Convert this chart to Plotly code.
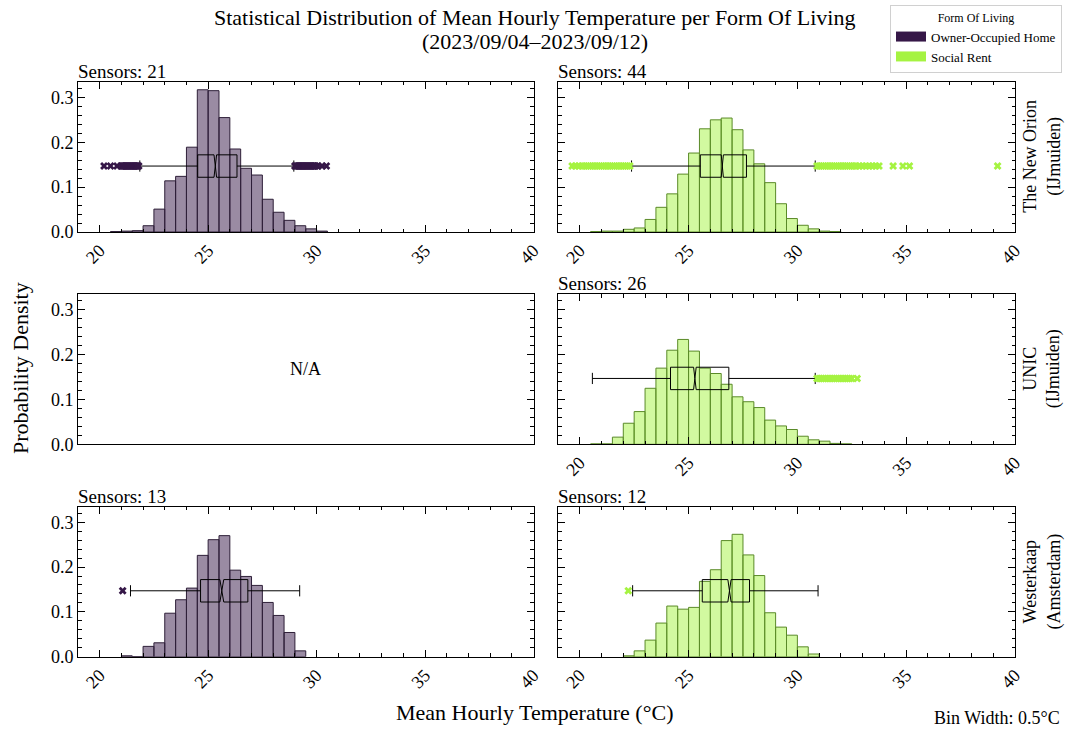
import plotly.graph_objects as go

# ---------------- data ----------------
x_tick_vals = [20, 25, 30, 35, 40]
x_tick_text = ["20", "25", "30", "35", "40"]
y_tick_vals = [0.0, 0.1, 0.2, 0.3]
y_tick_text = ["0.0", "0.1", "0.2", "0.3"]

# histogram bin left edges (bin width 0.5 °C) and densities
orion_owner_edges = [20.5, 21.0, 21.5, 22.0, 22.5, 23.0, 23.5, 24.0, 24.5, 25.0,
                     25.5, 26.0, 26.5, 27.0, 27.5, 28.0, 28.5, 29.0, 29.5, 30.0]
orion_owner_density = [0.001, 0.002, 0.003, 0.014, 0.051, 0.114, 0.124, 0.189, 0.317, 0.315,
                       0.255, 0.185, 0.142, 0.127, 0.073, 0.044, 0.026, 0.014, 0.007, 0.002]

orion_social_edges = [20.5, 21.0, 21.5, 22.0, 22.5, 23.0, 23.5, 24.0, 24.5, 25.0, 25.5, 26.0,
                      26.5, 27.0, 27.5, 28.0, 28.5, 29.0, 29.5, 30.0, 30.5, 31.0, 31.5]
orion_social_density = [0.001, 0.002, 0.002, 0.006, 0.009, 0.028, 0.055, 0.085, 0.129, 0.176, 0.230, 0.250,
                        0.254, 0.228, 0.183, 0.152, 0.110, 0.063, 0.030, 0.015, 0.007, 0.002, 0.001]

unic_social_edges = [20.5, 21.0, 21.5, 22.0, 22.5, 23.0, 23.5, 24.0, 24.5, 25.0, 25.5, 26.0,
                     26.5, 27.0, 27.5, 28.0, 28.5, 29.0, 29.5, 30.0, 30.5, 31.0, 31.5, 32.0]
unic_social_density = [0.001, 0.001, 0.016, 0.047, 0.073, 0.125, 0.170, 0.210, 0.234, 0.208, 0.170, 0.158,
                       0.134, 0.106, 0.095, 0.082, 0.054, 0.041, 0.033, 0.018, 0.010, 0.007, 0.002, 0.001]

wester_owner_edges = [21.0, 21.5, 22.0, 22.5, 23.0, 23.5, 24.0, 24.5, 25.0, 25.5,
                      26.0, 26.5, 27.0, 27.5, 28.0, 28.5, 29.0]
wester_owner_density = [0.002, 0.0, 0.023, 0.031, 0.097, 0.127, 0.153, 0.226, 0.261, 0.270,
                        0.193, 0.179, 0.159, 0.121, 0.092, 0.054, 0.013]

wester_social_edges = [22.0, 22.5, 23.0, 23.5, 24.0, 24.5, 25.0, 25.5, 26.0,
                       26.5, 27.0, 27.5, 28.0, 28.5, 29.0, 29.5, 30.0, 30.5]
wester_social_density = [0.002, 0.013, 0.037, 0.075, 0.113, 0.106, 0.110, 0.168, 0.194,
                         0.259, 0.273, 0.227, 0.181, 0.098, 0.066, 0.048, 0.022, 0.006]

# box statistics: q1, median, q3, lower whisker, upper whisker, notch half-span
orion_owner_box = [24.52, 25.33, 26.33, 21.85, 28.95, 0.06]
orion_social_box = [25.54, 26.55, 27.66, 22.38, 30.82, 0.05]
unic_social_box = [24.17, 25.29, 26.85, 20.58, 30.82, 0.06]
wester_owner_box = [24.65, 25.63, 26.83, 21.42, 29.22, 0.09]
wester_social_box = [25.63, 26.88, 27.80, 22.43, 30.95, 0.075]

# outliers
orion_owner_outliers = [20.2, 20.5, 20.8, 21.0, 21.05, 21.1, 21.15, 21.2, 21.25, 21.3, 21.35, 21.4,
                        21.45, 21.5, 21.55, 21.6, 21.65, 21.7, 21.75, 21.8,
                        29.0, 29.05, 29.1, 29.15, 29.2, 29.25, 29.3, 29.35, 29.4, 29.45, 29.5,
                        29.55, 29.6, 29.65, 29.7, 29.75, 29.8, 29.85, 29.9, 29.95, 30.05, 30.25, 30.45]
orion_social_outliers = [19.65, 19.8, 19.95, 20.1, 20.2, 20.3, 20.4, 20.5, 20.6, 20.7, 20.8, 20.9,
                         21.0, 21.1, 21.2, 21.3, 21.4, 21.5, 21.6, 21.7, 21.8, 21.9, 22.0, 22.1,
                         22.2, 22.3,
                         30.9, 31.0, 31.1, 31.2, 31.3, 31.4, 31.5, 31.6, 31.7, 31.8, 31.9, 32.0,
                         32.1, 32.2, 32.3, 32.4, 32.5, 32.6, 32.7, 32.85, 33.0, 33.15, 33.3, 33.45,
                         33.6, 33.75, 34.4, 34.85, 35.15, 39.2]
unic_social_outliers = [30.9, 31.0, 31.1, 31.2, 31.3, 31.4, 31.5, 31.6, 31.7, 31.8, 31.9, 32.0,
                        32.1, 32.2, 32.3, 32.4, 32.5, 32.75]
wester_owner_outliers = [21.06]
wester_social_outliers = [22.23]

sensor_counts = {"tl": 21, "tr": 44, "mr": 26, "bl": 13, "br": 12}
locations = ["The New Orion<br>(IJmuiden)", "UNIC<br>(IJmuiden)", "Westerkaap<br>(Amsterdam)"]
groups = ["Owner-Occupied Home", "Social Rent"]
box_y = 0.147

# ---------------- style ----------------
FONT = "Liberation Serif"
W, H = 1069, 731
purple_base = "#351747"
purple_fill = "rgba(53,23,71,0.5)"
purple_edge = "#2e1f38"
green_base = "#a5f341"
green_fill = "rgba(165,243,65,0.5)"
green_edge = "#5a8a28"

col_dom = [[78 / W, 533.5 / W], [558 / W, 1015 / W]]
row_dom = [[1 - 232 / H, 1 - 81.7 / H], [1 - 444.3 / H, 1 - 294.2 / H], [1 - 656.7 / H, 1 - 506.5 / H]]

fig = go.Figure()

# panel index: 1 tl, 2 tr, 3 ml, 4 mr, 5 bl, 6 br
panels = {
    1: (orion_owner_edges, orion_owner_density, orion_owner_box, orion_owner_outliers, "owner"),
    2: (orion_social_edges, orion_social_density, orion_social_box, orion_social_outliers, "social"),
    4: (unic_social_edges, unic_social_density, unic_social_box, unic_social_outliers, "social"),
    5: (wester_owner_edges, wester_owner_density, wester_owner_box, wester_owner_outliers, "owner"),
    6: (wester_social_edges, wester_social_density, wester_social_box, wester_social_outliers, "social"),
}

for idx, (edges, dens, bx, outl, grp) in panels.items():
    xa = "x" if idx == 1 else f"x{idx}"
    ya = "y" if idx == 1 else f"y{idx}"
    if grp == "owner":
        fill, edge, base = purple_fill, purple_edge, purple_base
    else:
        fill, edge, base = green_fill, green_edge, green_base
    fig.add_trace(go.Bar(x=edges, y=dens, width=0.5, offset=0,
                         marker=dict(color=fill, line=dict(color=edge, width=1)),
                         showlegend=False, xaxis=xa, yaxis=ya))
    fig.add_trace(go.Box(orientation="h", y=[box_y],
                         q1=[bx[0]], median=[bx[1]], q3=[bx[2]],
                         lowerfence=[bx[3]], upperfence=[bx[4]], notchspan=[bx[5]],
                         notched=True, notchwidth=0.5, width=0.05, whiskerwidth=0.5,
                         boxpoints=False, fillcolor="rgba(0,0,0,0)",
                         line=dict(color="black", width=1),
                         showlegend=False, xaxis=xa, yaxis=ya))
    fig.add_trace(go.Scatter(x=outl, y=[box_y] * len(outl), mode="markers",
                             marker=dict(symbol="x", size=7, color=base, line=dict(width=0)),
                             showlegend=False, xaxis=xa, yaxis=ya))

# empty panel (no owner-occupied data for UNIC) so its axes are drawn
fig.add_trace(go.Scatter(x=[], y=[], mode="markers", showlegend=False, xaxis="x3", yaxis="y3"))

# legend entries (wide rectangular swatches)
fig.add_trace(go.Scatter(x=[None], y=[None], mode="lines", name=groups[0],
                         line=dict(color=purple_base, width=11), showlegend=True))
fig.add_trace(go.Scatter(x=[None], y=[None], mode="lines", name=groups[1],
                         line=dict(color=green_base, width=11), showlegend=True))

tickfont = dict(family=FONT, size=18, color="black")
layout = {}
for idx in range(1, 7):
    r = (idx - 1) // 2
    c = (idx - 1) % 2
    xkey = "xaxis" if idx == 1 else f"xaxis{idx}"
    ykey = "yaxis" if idx == 1 else f"yaxis{idx}"
    ya_ref = "y" if idx == 1 else f"y{idx}"
    xa_ref = "x" if idx == 1 else f"x{idx}"
    show_x = idx != 3
    layout[xkey] = dict(domain=col_dom[c], anchor=ya_ref, range=[19, 40],
                        showgrid=False, zeroline=False, automargin=False,
                        showline=True, linecolor="black", linewidth=1,
                        mirror="allticks" if show_x else True,
                        ticks="inside" if show_x else "", ticklen=7, tickwidth=1, tickcolor="black",
                        tickvals=x_tick_vals if show_x else [], ticktext=x_tick_text if show_x else [],
                        showticklabels=show_x, tickangle=-45, tickfont=tickfont,
                        minor=dict(ticks="inside" if show_x else "", ticklen=3.5, dtick=1, tick0=0,
                                   tickcolor="black", tickwidth=1, showgrid=False))
    layout[ykey] = dict(domain=row_dom[r], anchor=xa_ref, range=[0, 0.335],
                        showgrid=False, zeroline=False, automargin=False,
                        showline=True, linecolor="black", linewidth=1, mirror="allticks",
                        ticks="inside", ticklen=7, tickwidth=1, tickcolor="black",
                        tickvals=y_tick_vals, ticktext=y_tick_text,
                        showticklabels=(c == 0), tickfont=tickfont,
                        minor=dict(ticks="inside", ticklen=3.5, dtick=0.02, tick0=0,
                                   tickcolor="black", tickwidth=1, showgrid=False))

annotations = []
sensor_panels = [("tl", 1), ("tr", 2), ("mr", 4), ("bl", 5), ("br", 6)]
for key, idx in sensor_panels:
    xr = "x" if idx == 1 else f"x{idx}"
    yr = "y" if idx == 1 else f"y{idx}"
    annotations.append(dict(text=f"Sensors: {sensor_counts[key]}", xref=f"{xr} domain", yref=f"{yr} domain",
                            x=0, y=1, xanchor="left", yanchor="bottom", showarrow=False,
                            font=dict(family=FONT, size=19, color="black"), xshift=-2, yshift=-2))
for r, loc in enumerate(locations):
    yr = ["y2", "y4", "y6"][r]
    annotations.append(dict(text=loc, xref="paper", yref=f"{yr} domain", x=1042 / W, y=0.5,
                            xanchor="center", yanchor="middle", textangle=-90, showarrow=False,
                            font=dict(family=FONT, size=18, color="black")))
annotations.append(dict(text="N/A", xref="x3 domain", yref="y3 domain", x=0.5, y=0.5,
                        showarrow=False, font=dict(family=FONT, size=18, color="black")))
annotations.append(dict(text="Probability Density", xref="paper", yref="paper", x=20 / W, y=1 - 368 / H,
                        textangle=-90, showarrow=False, xanchor="center", yanchor="middle",
                        font=dict(family=FONT, size=22, color="black")))
annotations.append(dict(text="Mean Hourly Temperature (°C)", xref="paper", yref="paper", x=0.5, y=1 - 712 / H,
                        showarrow=False, xanchor="center", yanchor="middle",
                        font=dict(family=FONT, size=22, color="black")))
annotations.append(dict(text="Bin Width: 0.5°C", xref="paper", yref="paper", x=1062 / W, y=1 - 718 / H,
                        showarrow=False, xanchor="right", yanchor="middle",
                        font=dict(family=FONT, size=18, color="black")))
annotations.append(dict(text="Statistical Distribution of Mean Hourly Temperature per Form Of Living",
                        xref="paper", yref="paper", x=0.5, y=1 - 18 / H, showarrow=False,
                        xanchor="center", yanchor="middle", font=dict(family=FONT, size=22, color="black")))
annotations.append(dict(text="(2023/09/04–2023/09/12)",
                        xref="paper", yref="paper", x=0.5, y=1 - 41 / H, showarrow=False,
                        xanchor="center", yanchor="middle", font=dict(family=FONT, size=22, color="black")))

fig.update_layout(
    autosize=True,
    margin=dict(l=0, r=0, t=0, b=0, pad=0, autoexpand=False),
    paper_bgcolor="white", plot_bgcolor="white",
    barmode="overlay",
    showlegend=True,
    legend=dict(x=1062 / W, y=1 - 5 / H, xanchor="right", yanchor="top",
                bgcolor="white", bordercolor="#d0d0d0", borderwidth=1,
                font=dict(family=FONT, size=13, color="black"),
                title=dict(text="Form Of Living", side="top center",
                           font=dict(family=FONT, size=12, color="black")),
                tracegroupgap=0, itemclick=False),
    annotations=annotations,
    **layout,
)

fig.write_html(
    "out.html",
    default_width="100vw",
    default_height="100vh",
    post_script="document.documentElement.style.margin='0';document.body.style.margin='0';"
                "document.documentElement.style.overflow='hidden';document.body.style.overflow='hidden';",
)
